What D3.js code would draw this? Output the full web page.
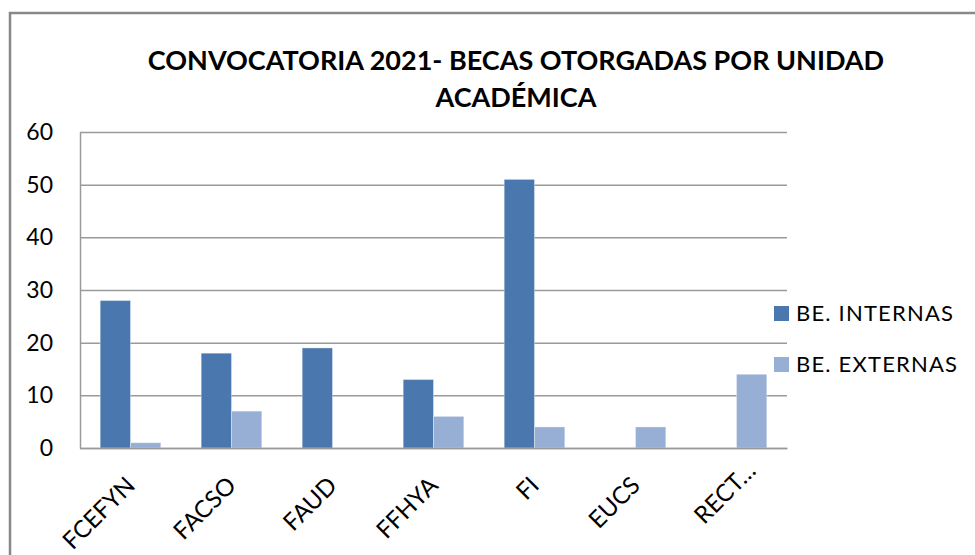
<!DOCTYPE html>
<html>
<head>
<meta charset="utf-8">
<script src="https://cdn.jsdelivr.net/npm/d3@7"></script>
<style>
  body { margin: 0; background: #fff; }
  text { font-family: Lato, "Open Sans", sans-serif; fill: #000; }
</style>
</head>
<body>
<div id="chart"></div>
<script>
const categories = ["FCEFYN", "FACSO", "FAUD", "FFHYA", "FI", "EUCS", "RECT…"];
const series = ["BE. INTERNAS", "BE. EXTERNAS"];
const internas = [28, 18, 19, 13, 51, 0, 0];
const externas = [1, 7, 0, 6, 4, 4, 14];
const yTicks = [0, 10, 20, 30, 40, 50, 60];
const titleLines = ["CONVOCATORIA 2021- BECAS OTORGADAS POR UNIDAD", "ACADÉMICA"];

const colors = ["#4a78ae", "#97aed5"];
const values = [internas, externas];

const W = 975;
const H = 555;
const margin = { top: 132, right: 188, bottom: 107, left: 80 };
const width = W - margin.left - margin.right;
const height = H - margin.top - margin.bottom;

const root = d3
  .select("#chart")
  .append("svg")
  .attr("width", W)
  .attr("height", H);

// chart frame (runs off the right and bottom of the picture)
root
  .append("rect")
  .attr("x", 10)
  .attr("y", 13)
  .attr("width", 1000)
  .attr("height", 600)
  .attr("fill", "none")
  .attr("stroke", "#888")
  .attr("stroke-width", 2.5);

const title = root
  .append("text")
  .attr("text-anchor", "middle")
  .attr("font-weight", "bold")
  .attr("font-size", 27);

title
  .selectAll("tspan")
  .data(titleLines)
  .enter()
  .append("tspan")
  .attr("x", 516)
  .attr("y", (d, i) => 70 + i * 37)
  .text((d) => d);

const svg = root
  .append("g")
  .attr("transform", `translate(${margin.left},${margin.top})`);

const x0 = d3.scaleBand().domain(categories).range([0, width]);
const bw = x0.bandwidth();
const x1 = d3.scaleBand().domain(series).range([bw * 0.2, bw * 0.8]);
const y = d3.scaleLinear().domain([0, 60]).range([height, 0]);

// gridlines
svg
  .append("g")
  .attr("class", "grid")
  .call(d3.axisLeft(y).tickValues(yTicks).tickSize(-width).tickFormat(""))
  .call((g) => g.select(".domain").remove())
  .selectAll("line")
  .attr("stroke", "#9a9a9a")
  .attr("stroke-width", 1.5);

// y axis
svg
  .append("g")
  .attr("id", "y-axis")
  .call(d3.axisLeft(y).tickValues(yTicks).tickSize(0).tickPadding(27))
  .call((g) => g.select(".domain").attr("stroke", "#9a9a9a").attr("stroke-width", 1.5))
  .selectAll("text")
  .attr("font-size", 23)
  .attr("font-family", "Lato, 'Open Sans', sans-serif")
  .attr("fill", "#000");

// bars
const groups = svg
  .selectAll(".cat")
  .data(categories)
  .enter()
  .append("g")
  .attr("class", "cat")
  .attr("transform", (d) => `translate(${x0(d)},0)`);

groups
  .selectAll("rect")
  .data((d, i) => series.map((s, j) => ({ s, v: values[j][i], c: colors[j] })))
  .enter()
  .filter((d) => d.v > 0)
  .append("rect")
  .attr("x", (d) => x1(d.s))
  .attr("y", (d) => y(d.v))
  .attr("width", x1.bandwidth())
  .attr("height", (d) => height - y(d.v))
  .attr("fill", (d) => d.c)
  .attr("stroke", "#ffffff")
  .attr("stroke-opacity", 0.35)
  .attr("stroke-width", 1);

// x axis
svg
  .append("g")
  .attr("id", "x-axis")
  .attr("transform", `translate(0,${height})`)
  .call(d3.axisBottom(x0).tickSize(0))
  .call((g) => g.select(".domain").attr("stroke", "#9a9a9a").attr("stroke-width", 1.5))
  .selectAll("text")
  .attr("font-size", 24)
  .attr("font-family", "Lato, 'Open Sans', sans-serif")
  .attr("fill", "#000")
  .attr("text-anchor", "end")
  .attr("x", 0)
  .attr("y", 0)
  .attr("dy", 0)
  // truncated label sits further along in the original
  .attr("dx", (d) => (d.endsWith("…") ? 21 : 0))
  .attr("transform", "translate(6,39) rotate(-45)");

// legend
const legend = root
  .append("g")
  .attr("id", "legend")
  .attr("transform", "translate(774,306)");

const items = legend
  .selectAll("g")
  .data(series)
  .enter()
  .append("g")
  .attr("transform", (d, i) => `translate(0,${i * 51})`);

items
  .append("rect")
  .attr("width", 15)
  .attr("height", 15)
  .attr("fill", (d, i) => colors[i]);

items
  .append("text")
  .attr("x", 22)
  .attr("y", 15)
  .attr("font-size", 22)
  .attr("letter-spacing", 1.2)
  .text((d) => d);
</script>
</body>
</html>
